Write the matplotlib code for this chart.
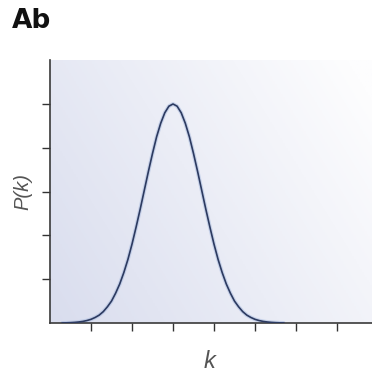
import numpy as np
import matplotlib
matplotlib.use("Agg")
import matplotlib.pyplot as plt
from matplotlib.colors import LinearSegmentedColormap

# Data (arbitrary units)
k_values = [0.3, 0.5, 0.6, 0.7, 0.8, 0.9, 1.0, 1.1, 1.2, 1.3, 1.4, 1.5, 1.6, 1.7, 1.8, 1.9,
            2.0, 2.1, 2.2, 2.3, 2.4, 2.5, 2.6, 2.7, 2.8, 2.9, 3.0,
            3.1, 3.2, 3.3, 3.4, 3.5, 3.6, 3.7, 3.8, 3.9, 4.0, 4.1, 4.2, 4.3, 4.4,
            4.5, 4.6, 4.7, 4.8, 4.9, 5.0, 5.1, 5.2, 5.3, 5.4, 5.5, 5.7]
p_values = [0.0, 0.008, 0.014, 0.023, 0.036, 0.056, 0.084, 0.126, 0.18, 0.26, 0.37,
            0.50, 0.68, 0.89, 1.15, 1.45, 1.80, 2.19, 2.60, 3.03, 3.46, 3.87, 4.25,
            4.56, 4.80, 4.95, 5.0,
            4.95, 4.80, 4.56, 4.25, 3.87, 3.46, 3.03, 2.60, 2.19, 1.80, 1.45, 1.15, 0.89,
            0.68, 0.50, 0.37, 0.26, 0.18, 0.126, 0.084, 0.056, 0.036, 0.023, 0.014, 0.008, 0.0]
x_ticks = [1, 2, 3, 4, 5, 6, 7]
y_ticks = [1, 2, 3, 4, 5]

fig = plt.figure(figsize=(3.72, 3.76), dpi=100)
ax = fig.add_axes([50/372, 1-323/376, 1-50/372, (323-60)/376])

# background gradient
cmap = LinearSegmentedColormap.from_list("bg", ["#d9ddee", "#fdfdfe"])
nx, ny = 200, 200
gx, gy = np.meshgrid(np.linspace(0, 1, nx), np.linspace(0, 1, ny))
grad = 0.7 * gx + 0.35 * gy
ax.imshow(grad, cmap=cmap, extent=[0, 1, 0, 1], transform=ax.transAxes,
          origin="lower", aspect="auto", zorder=0, vmin=0, vmax=1.0)

ax.plot(k_values, p_values, color="#a9bbdf", lw=2.8, alpha=0.55, zorder=2,
        solid_capstyle="round", solid_joinstyle="round")
ax.plot(k_values, p_values, color="#2c3a60", lw=1.2, zorder=3,
        solid_joinstyle="round")

ax.set_xlim(0, 322/41)
ax.set_ylim(0, 263/43.8)
ax.set_xticks(x_ticks)
ax.set_yticks(y_ticks)
ax.set_xticklabels([])
ax.set_yticklabels([])
ax.tick_params(axis="both", direction="out", length=5.5, width=1.0, color="#333333")

for s in ["top", "right"]:
    ax.spines[s].set_visible(False)
for s in ["left", "bottom"]:
    ax.spines[s].set_color("#3a3a3a")
    ax.spines[s].set_linewidth(1.2)

fig.text(23/372, 1-192/376, "P(k)", rotation=90, ha="center", va="center",
         fontsize=14.5, color="#555555", family="Liberation Sans", fontstyle="italic")
fig.text(210/372, 1-362/376, "k", ha="center", va="center",
         fontsize=17, color="#555555", family="Liberation Sans", fontstyle="italic")
fig.text(12/372, 1-8/376, "Ab", ha="left", va="top", fontsize=19,
         fontweight="bold", family="DejaVu Sans", color="#111111")

fig.savefig("out.png", dpi=100)
